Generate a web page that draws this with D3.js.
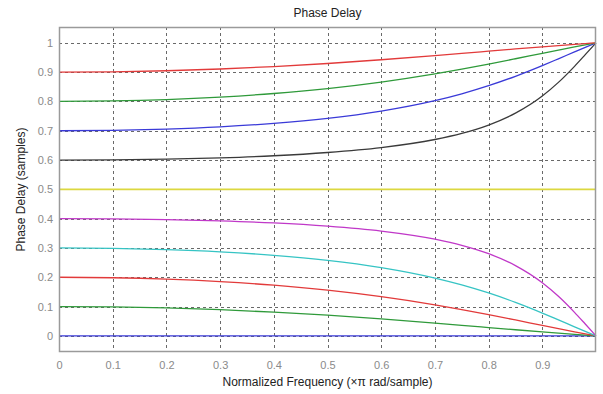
<!DOCTYPE html>
<html><head><meta charset="utf-8">
<script src="https://cdn.jsdelivr.net/npm/d3@7"></script>
<style>body{margin:0;background:#fff}svg{display:block}text{font-family:Arial,"Liberation Sans",sans-serif}</style>
</head><body>
<svg id="c" width="603" height="394"></svg>
<script>
// Normalized frequency sample points (x pi rad/sample)
const freq = [0, 0.1, 0.2, 0.3, 0.4, 0.5, 0.6, 0.7, 0.75, 0.8, 0.85, 0.9, 0.93, 0.96, 0.98, 1.0];
// Phase delay (samples) for each fractional delay curve
const d00 = [0,0,0,0,0,0,0,0,0,0,0,0,0,0,0,0];
const d01 = [0.1, 0.0988, 0.0953, 0.0893, 0.0810, 0.0705, 0.0578, 0.0436, 0.0361, 0.0285, 0.0209, 0.0136, 0.0093, 0.0052, 0.0026, 0];
const d02 = [0.2, 0.1984, 0.1936, 0.1852, 0.1729, 0.1560, 0.1338, 0.1059, 0.0898, 0.0725, 0.0543, 0.0357, 0.0247, 0.0138, 0.0068, 0];
const d03 = [0.3, 0.2986, 0.2943, 0.2867, 0.2749, 0.2578, 0.2330, 0.1974, 0.1741, 0.1464, 0.1142, 0.0778, 0.0545, 0.0309, 0.0153, 0];
const d04 = [0.4, 0.3992, 0.3967, 0.3923, 0.3853, 0.3743, 0.3575, 0.3299, 0.3091, 0.2805, 0.2399, 0.1814, 0.1350, 0.0802, 0.0404, 0];
const d05 = [0.5,0.5,0.5,0.5,0.5,0.5,0.5,0.5,0.5,0.5,0.5,0.5,0.5,0.5,0.5,0.5];
const d06 = [0.6, 0.6008, 0.6033, 0.6077, 0.6147, 0.6257, 0.6425, 0.6701, 0.6909, 0.7195, 0.7601, 0.8186, 0.8650, 0.9198, 0.9596, 1];
const d07 = [0.7, 0.7014, 0.7057, 0.7133, 0.7251, 0.7422, 0.7670, 0.8026, 0.8259, 0.8536, 0.8858, 0.9222, 0.9455, 0.9691, 0.9847, 1];
const d08 = [0.8, 0.8016, 0.8064, 0.8148, 0.8271, 0.8440, 0.8662, 0.8941, 0.9102, 0.9275, 0.9457, 0.9643, 0.9753, 0.9862, 0.9932, 1];
const d09 = [0.9, 0.9012, 0.9047, 0.9107, 0.9190, 0.9295, 0.9422, 0.9564, 0.9639, 0.9715, 0.9791, 0.9864, 0.9907, 0.9948, 0.9974, 1];
const seriesValues = [d00, d01, d02, d03, d04, d05, d06, d07, d08, d09];
const seriesColors = ["#3a3ad8", "#2f9a3a", "#e23a3a", "#36c4c4", "#c038c8", "#dcd840", "#3a3a3a", "#3a3ad8", "#2f9a3a", "#e23a3a"];
const xTicks = [0, 0.1, 0.2, 0.3, 0.4, 0.5, 0.6, 0.7, 0.8, 0.9];
const yTicks = [0, 0.1, 0.2, 0.3, 0.4, 0.5, 0.6, 0.7, 0.8, 0.9, 1];
const xGrid = [0.1, 0.2, 0.3, 0.4, 0.5, 0.6, 0.7, 0.8, 0.9];

const L = 59, R = 596, T = 27, B = 352;
const svg = d3.select("#c");
const x = d3.scaleLinear().domain([0, 1]).range([L, R]);
const y = d3.scaleLinear().domain([-0.055, 1.054]).range([B, T]);

svg.append("rect").attr("x", L).attr("y", T).attr("width", R - L).attr("height", B - T).attr("fill", "#fff");

// grid
const g = svg.append("g").attr("stroke", "#444").attr("stroke-width", 1).attr("stroke-dasharray", "3,3").attr("opacity", 0.8);
xGrid.forEach(v => g.append("line").attr("x1", Math.round(x(v)) + 0.5).attr("x2", Math.round(x(v)) + 0.5).attr("y1", T).attr("y2", B));
yTicks.forEach(v => g.append("line").attr("y1", Math.round(y(v)) + 0.5).attr("y2", Math.round(y(v)) + 0.5).attr("x1", L).attr("x2", R));

// curves
const line = d3.line().x((d, i) => x(freq[i])).y(d => y(d)).curve(d3.curveMonotoneX);
seriesValues.forEach((s, i) => {
  svg.append("path").attr("d", line(s)).attr("fill", "none").attr("stroke", seriesColors[i]).attr("stroke-width", i === 5 ? 1.6 : 1.3);
});

// axes
const xAxis = d3.axisBottom(x).tickValues(xTicks).tickSize(0).tickPadding(9).tickFormat(d => d === 0 ? "0" : d3.format(".1f")(d));
const yAxis = d3.axisLeft(y).tickValues(yTicks).tickSize(0).tickPadding(6).tickFormat(d => (d === 0 || d === 1) ? String(d) : d3.format(".1f")(d));
const gx = svg.append("g").attr("transform", `translate(0,${B})`).call(xAxis);
const gy = svg.append("g").attr("transform", `translate(${L},0)`).call(yAxis);
[gx, gy].forEach(a => {
  a.select(".domain").remove();
  a.selectAll("text").attr("fill", "#8a8a8a").style("font-size", "11px").style("font-family", "Arial, 'Liberation Sans', sans-serif");
});

// box
svg.append("rect").attr("x", L + 0.5).attr("y", T + 0.5).attr("width", R - L - 1).attr("height", B - T - 1)
  .attr("fill", "none").attr("stroke", "#9a9a9a").attr("stroke-width", 1.5);

// labels
svg.append("text").attr("x", (L + R) / 2).attr("y", 17).attr("text-anchor", "middle").attr("fill", "#222").style("font-size", "12px").text("Phase Delay");
svg.append("text").attr("x", (L + R) / 2).attr("y", 386).attr("text-anchor", "middle").attr("fill", "#222").style("font-size", "12px").text("Normalized Frequency (\u00d7\u03c0 rad/sample)");
svg.append("text").attr("transform", `translate(25,${(T + B) / 2}) rotate(-90)`).attr("text-anchor", "middle").attr("fill", "#222").style("font-size", "12px").text("Phase Delay (samples)");
</script>
</body></html>
